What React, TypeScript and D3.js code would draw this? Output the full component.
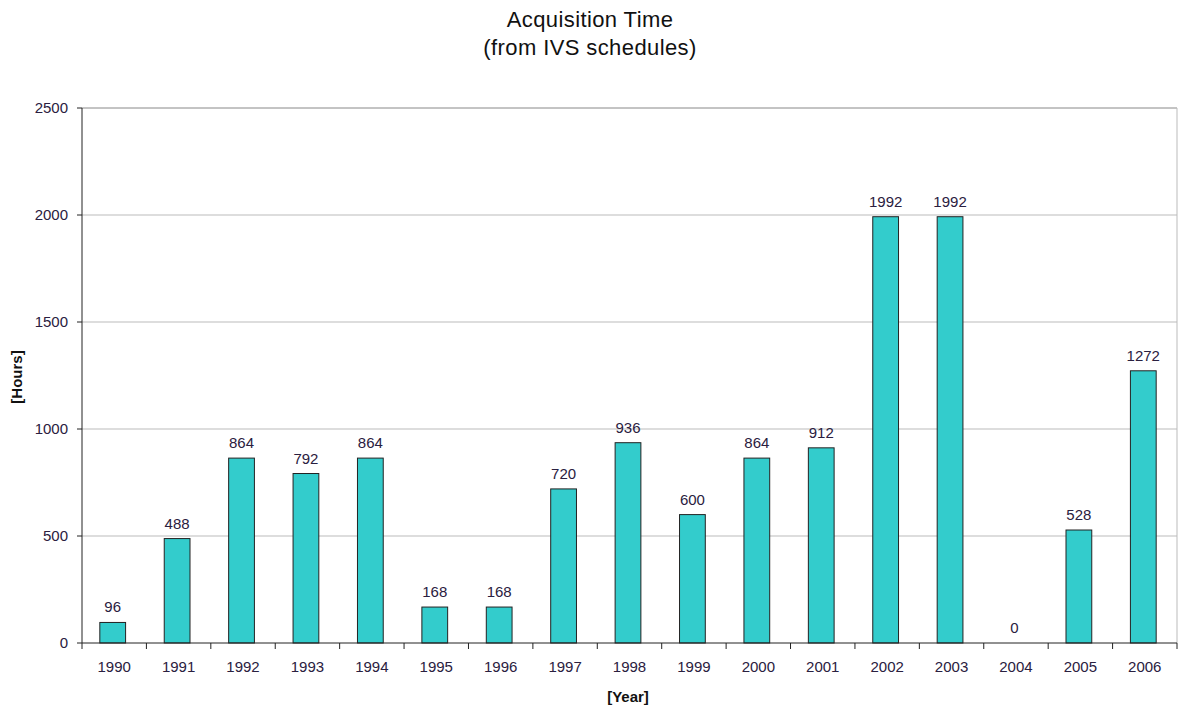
import * as d3 from 'd3';

const years = ['1990', '1991', '1992', '1993', '1994', '1995', '1996', '1997', '1998', '1999', '2000', '2001', '2002', '2003', '2004', '2005', '2006'];
const hours = [96, 488, 864, 792, 864, 168, 168, 720, 936, 600, 864, 912, 1992, 1992, 0, 528, 1272];
const yTicks = [0, 500, 1000, 1500, 2000, 2500];

const W = 1178;
const H = 708;
const left = 82;
const right = 1177;
const top = 108;
const bottom = 643;
const font = '"Liberation Sans", Arial, sans-serif';

export default function App() {
  const x = d3.scaleBand().domain(years).range([left, right]).paddingInner(0.6).paddingOuter(0.3);
  const y = d3.scaleLinear().domain([0, 2500]).range([bottom, top]);
  const step = x.step();
  const bounds = d3.range(years.length + 1).map(i => left + i * (right - left) / years.length);

  return (
    <svg width={W} height={H} style={{ position: 'absolute', left: 0, top: 0, background: '#fff' }} fontFamily={font}>
      <text x={590} y={27} textAnchor="middle" fontSize={22} letterSpacing={0.4} fill="#111">Acquisition Time</text>
      <text x={590} y={55} textAnchor="middle" fontSize={22} letterSpacing={0.4} fill="#111">(from IVS schedules)</text>

      {yTicks.map(t => (
        <g key={t}>
          {t > 0 && <line x1={left} x2={right} y1={y(t)} y2={y(t)} stroke={t === 2500 ? '#888' : '#bbb'} />}
          <line x1={left - 5} x2={left} y1={y(t)} y2={y(t)} stroke="#222" />
          <text x={left - 14} y={y(t) + 5} textAnchor="end" fontSize={15} fill="#2a2040">{t}</text>
        </g>
      ))}
      <line x1={right} x2={right} y1={top} y2={bottom} stroke="#bbb" />

      {years.map((yr, i) => {
        const bx = (x(yr) as number) - 1.5;
        const h = hours[i];
        return (
          <g key={yr}>
            {h > 0 && (
              <rect x={bx} y={y(h)} width={x.bandwidth()} height={bottom - y(h)} fill="#33CCCC" stroke="#222" strokeWidth={1} />
            )}
            <text x={bx + x.bandwidth() / 2} y={y(h) - 10} textAnchor="middle" fontSize={15} fill="#2a2040">{h}</text>
            <text x={bounds[i] + step / 2} y={672} textAnchor="middle" fontSize={15} fill="#2a2040">{yr}</text>
          </g>
        );
      })}

      <line x1={left} x2={right} y1={bottom} y2={bottom} stroke="#222" />
      <line x1={left} x2={left} y1={top} y2={bottom} stroke="#222" />
      {bounds.map((b, i) => (
        <line key={i} x1={b} x2={b} y1={bottom} y2={bottom + 6} stroke="#222" />
      ))}

      <text x={628} y={702} textAnchor="middle" fontSize={15} fontWeight="bold" fill="#111">[Year]</text>
      <text transform={`translate(22,377) rotate(-90)`} textAnchor="middle" fontSize={15} fontWeight="bold" fill="#111">[Hours]</text>
    </svg>
  );
}
